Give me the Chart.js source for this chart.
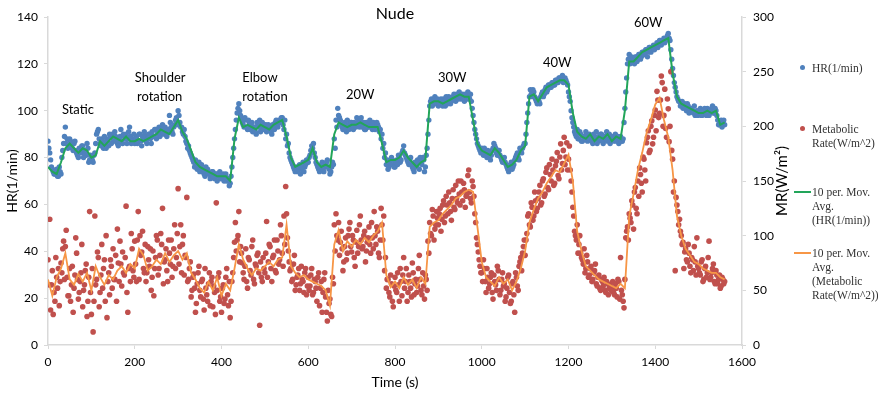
<!DOCTYPE html>
<html>
<head>
<meta charset="utf-8">
<script src="https://cdn.jsdelivr.net/npm/chart.js@4.4.1/dist/chart.umd.min.js"></script>
<style>
  html, body { margin: 0; padding: 0; background: #fff; }
  #wrap { position: relative; width: 878px; height: 396px; }
  #legend { font-family: 'Liberation Serif', serif; font-size: 11.5px; color: #333; line-height: 14px; }
  #legend .txt { position: absolute; left: 812px; white-space: nowrap; }
  #legend .dot { position: absolute; width: 5px; height: 5px; border-radius: 50%; }
  #legend .swatch { position: absolute; width: 17px; height: 2px; }
</style>
</head>
<body>
<div id="wrap">
  <canvas id="chart" width="878" height="396"></canvas>
  <div id="legend">
    <div class="dot" style="left:800px;top:65px;background:#4f81bd"></div>
    <div class="txt" style="top:61px">HR(1/min)</div>
    <div class="dot" style="left:800px;top:126px;background:#c0504d"></div>
    <div class="txt" style="top:122px">Metabolic<br>Rate(W/m^2)</div>
    <div class="swatch" style="left:794px;top:191px;background:#22a55a"></div>
    <div class="txt" style="top:185px">10 per. Mov.<br>Avg.<br>(HR(1/min))</div>
    <div class="swatch" style="left:794px;top:252px;background:#f79646"></div>
    <div class="txt" style="top:246px">10 per. Mov.<br>Avg.<br>(Metabolic<br>Rate(W/m^2))</div>
  </div>
</div>
<script>
// readings every 4 s (second set offset by 2 s), moving averages every 10 s
const sampleStep = 4;
const avgStep = 10;

const hrReadings = [
  87,82,76,74,73,75,72,74,80,86,93,88,85,87,84,86,83,81,84,82,85,83,81,84,79,
  80,78,82,90,92,86,88,84,86,88,85,89,90,87,89,86,88,92,86,89,90,88,93,86,88,
  86,89,87,90,85,88,89,86,90,88,91,89,92,90,93,91,94,92,90,91,98,93,90,94,97,
  100,95,93,90,89,86,85,82,80,78,79,75,78,76,74,73,76,75,73,72,74,71,73,72,74,
  71,73,72,70,71,69,76,84,92,99,103,98,95,93,96,92,95,94,91,93,90,94,96,92,94,
  93,91,94,92,90,93,95,94,96,95,97,92,88,85,82,79,77,75,76,74,77,75,78,76,79,
  78,81,85,86,80,77,75,76,78,74,77,79,75,74,78,88,96,101,97,94,92,95,91,94,93,
  95,92,94,97,94,96,93,95,92,94,93,95,92,94,93,94,91,88,84,80,77,75,78,80,77,
  76,79,81,78,82,85,81,79,77,80,76,74,77,79,75,78,80,74,81,90,102,105,103,106,104,
  102,104,103,105,102,104,106,103,105,107,104,106,108,105,107,104,106,108,105,104,98,92,88,85,83,
  84,81,83,80,82,79,83,86,84,81,83,80,78,80,77,75,76,78,76,79,81,80,84,82,85,
  86,95,103,109,106,108,105,103,104,106,108,107,110,109,111,110,112,111,113,112,114,113,112,114,112,
  108,104,97,93,90,92,88,90,87,89,91,87,90,88,86,89,91,87,88,90,86,89,91,88,86,
  89,87,90,88,86,89,87,95,108,120,124,121,122,120,123,122,124,123,125,124,126,125,127,126,128,
  127,129,128,130,129,131,130,132,131,126,118,112,108,105,104,103,101,103,100,102,100,101,99,98,100,
  99,101,98,100,99,101,98,100,102,99,100,96,94,96,95,94
];

const hrReadingsMid = [
  84,79,75,73,74,72,76,73,83,89,86,84,88,85,83,87,82,80,83,85,80,82,86,78,81,
  79,81,86,91,88,85,87,89,84,87,90,86,88,91,87,85,89,87,90,88,86,91,89,87,90,
  88,86,90,87,89,91,87,88,90,86,89,92,88,91,89,92,90,93,89,92,95,91,93,96,94,
  98,93,91,92,87,84,83,81,79,76,77,76,74,77,75,72,74,73,71,74,72,73,70,73,71,
  72,70,73,71,68,72,80,88,96,101,100,97,94,97,93,96,92,95,93,91,95,93,91,95,92,
  94,92,93,91,94,92,96,93,95,97,94,96,90,86,80,78,76,74,75,76,73,76,74,77,78,
  80,83,84,82,78,76,74,77,75,76,78,76,73,76,77,84,93,98,96,93,94,92,96,92,95,
  93,95,93,95,93,97,94,92,95,93,96,93,95,92,95,93,92,90,86,82,79,76,77,79,76,
  78,77,80,79,83,82,80,78,79,77,75,78,76,78,80,77,79,76,84,96,104,102,105,103,105,
  103,105,102,104,106,103,105,104,106,105,107,105,107,106,105,107,105,106,107,101,95,90,86,84,82,
  82,84,81,83,80,81,84,85,82,83,81,79,79,78,76,74,77,75,77,80,82,79,83,84,86,
  90,99,106,107,109,106,104,105,103,107,106,109,108,111,110,112,111,113,112,114,113,115,113,113,111,
  106,100,95,91,89,88,91,87,89,88,90,89,88,87,90,88,86,89,90,87,89,88,87,90,88,
  88,89,87,89,88,87,88,101,114,122,120,123,121,123,121,124,122,125,124,126,123,127,125,127,126,
  128,127,130,128,130,129,131,133,130,122,115,110,106,104,102,104,102,101,103,99,101,100,102,99,98,
  100,98,100,101,98,100,99,101,99,101,98,94,95,93,96
];

const mrReadings = [
  78,115,55,28,40,62,70,58,66,95,90,62,45,40,72,52,98,60,48,66,35,55,74,40,122,
  28,12,118,60,80,48,92,70,40,25,66,78,52,60,82,106,58,74,85,64,127,30,72,102,68,
  95,58,122,100,85,70,92,66,78,88,62,45,80,96,70,102,125,76,88,58,84,96,72,110,80,
  143,90,66,100,82,135,60,76,50,65,30,56,72,44,60,32,52,40,66,58,35,48,130,62,40,
  30,55,42,70,36,25,58,80,112,96,122,90,75,60,88,52,78,64,96,56,72,84,18,62,80,
  66,113,76,90,58,82,68,96,74,110,84,118,145,98,76,70,60,82,55,64,50,72,58,66,46,
  62,54,70,48,58,40,66,52,30,60,44,22,38,28,62,110,120,96,82,104,68,90,78,100,112,
  85,96,72,105,90,118,88,100,76,94,108,84,98,122,92,104,80,125,96,68,52,60,44,56,35,
  62,48,55,70,45,80,58,40,64,52,75,46,60,54,82,50,66,42,60,95,112,100,118,106,122,
  110,125,115,132,118,128,140,122,134,126,146,130,138,150,132,142,136,155,140,130,145,120,98,85,72,
  66,78,58,70,52,62,48,64,55,72,60,50,66,56,44,62,48,40,58,30,62,50,76,68,90,
  82,102,120,108,126,118,132,125,140,128,150,136,158,144,165,150,160,148,168,155,172,160,178,165,185,
  170,160,140,118,100,110,92,84,78,88,70,76,64,72,60,68,56,62,52,60,54,50,58,46,55,
  52,48,56,44,58,80,46,34,98,108,120,112,128,140,125,150,162,148,172,160,185,196,178,205,190,
  215,232,208,224,240,210,198,225,186,250,170,150,135,122,115,100,94,85,78,92,72,80,68,76,98,
  70,64,78,60,72,66,95,62,70,58,68,56,64,54,60,58
];

const mrReadingsMid = [
  55,32,68,48,80,52,36,75,88,60,105,45,70,55,30,64,84,42,58,92,50,68,26,62,48,
  70,40,55,85,35,64,52,78,100,58,46,72,88,60,40,75,95,54,66,80,48,70,58,88,62,
  74,96,60,82,104,66,58,90,72,50,86,70,100,64,82,92,56,78,68,96,74,62,88,70,102,
  74,110,92,64,80,58,70,44,62,52,38,66,50,58,42,70,46,56,36,62,54,28,50,66,44,
  52,38,62,46,58,40,66,94,86,100,76,84,66,72,58,80,68,90,60,74,82,66,76,58,70,
  84,62,92,70,80,96,66,86,78,100,72,92,120,86,68,58,74,50,62,70,56,60,48,70,54,
  50,64,46,60,52,62,36,58,48,66,30,50,42,26,56,86,100,112,94,88,76,98,84,106,90,
  100,80,94,84,110,96,90,104,86,98,92,112,88,100,108,84,96,110,118,80,60,48,64,40,54,
  50,66,40,58,64,52,70,48,58,44,66,56,48,70,60,46,54,64,50,84,102,124,96,110,116,
  120,104,128,112,136,120,130,114,142,124,134,150,128,140,148,126,138,160,134,150,136,112,92,78,66,
  58,70,48,62,56,66,42,58,50,68,46,60,54,40,52,64,38,56,46,66,54,72,80,84,96,
  96,118,110,130,114,140,122,134,146,130,152,138,162,142,156,170,146,164,176,152,184,166,190,172,160,
  182,150,126,104,96,84,100,80,74,66,82,62,70,58,66,74,54,64,50,58,62,48,56,52,50,
  58,46,52,60,42,50,40,60,104,96,116,132,106,144,120,136,156,140,170,150,190,176,200,184,210,
  196,224,212,246,200,234,190,216,200,178,140,68,128,110,104,92,70,88,76,84,66,78,90,64,72,
  66,76,58,70,62,80,60,66,74,56,64,60,52,62,56
];

const hrAvg = [
  76,74,73,78,84,86,84,82,84,83,
  80,81,87,85,87,89,88,87,89,87,
  87,88,87,88,89,90,92,91,90,93,
  96,91,88,83,78,76,75,74,73,72,
  72,72,70,88,97,93,94,93,92,94,
  93,92,94,95,96,89,80,76,77,78,
  79,84,78,76,77,76,90,95,94,93,
  94,94,95,94,93,93,93,86,78,79,
  79,80,83,80,78,76,78,79,103,104,
  104,103,104,105,106,107,106,106,96,86,
  83,82,81,84,82,79,76,77,79,83,
  85,106,107,104,107,110,111,112,113,113,
  111,99,91,89,88,90,87,89,88,90,
  87,89,88,100,121,121,123,125,126,127,
  128,129,130,131,116,106,103,102,101,100,
  99,99,100,99,100,94,95
];

const mrAvg = [
  60,45,62,70,84,60,55,65,58,66,
  50,72,62,55,64,60,68,72,66,74,
  70,88,82,68,72,78,74,84,76,82,
  86,78,84,66,60,52,48,58,50,62,
  45,56,50,70,92,78,70,64,70,68,
  72,76,72,78,80,110,72,66,62,64,
  60,58,56,54,50,36,92,105,86,95,
  90,96,92,98,94,100,104,112,64,53,
  58,52,62,55,60,52,62,56,108,112,
  114,120,124,128,134,136,140,142,140,108,
  76,62,58,54,62,56,60,50,58,70,
  86,112,124,134,140,148,154,160,158,166,
  174,150,104,86,72,68,64,60,58,56,
  54,52,56,52,118,138,160,176,194,206,
  220,226,206,190,160,118,100,88,82,76,
  74,70,68,66,66,62,60
];

// stage labels: text, time (s), HR level of the text line
const stageText = ['Static', 'Shoulder', 'rotation', 'Elbow', 'rotation', '20W', '30W', '40W', '60W'];
const stageTime = [32, 200, 205, 448, 448, 687, 899, 1141, 1351];
const stageHr = [100.3, 114, 105.8, 114, 105.8, 107, 114, 120.4, 137.4];

const toPoints = (vals, step, start = 0) => vals.map((v, i) => ({ x: start + i * step, y: v }));

const labelsPlugin = {
    id: 'labels',
    afterDatasetsDraw(chart) {
        const { ctx, chartArea } = chart;
        const x = chart.scales.x, y = chart.scales.y;
        ctx.save();
        ctx.fillStyle = '#000';
        ctx.textBaseline = 'middle';
        ctx.textAlign = 'left';
        ctx.font = '13px Lato';
        stageText.forEach((s, i) => ctx.fillText(s, x.getPixelForValue(stageTime[i]), y.getPixelForValue(stageHr[i])));
        ctx.textAlign = 'center';
        ctx.font = '16px Lato';
        ctx.fillText('Nude', (chartArea.left + chartArea.right) / 2, 14);
        ctx.translate(782, (chartArea.top + chartArea.bottom) / 2);
        ctx.rotate(-Math.PI / 2);
        ctx.font = '15px Lato';
        ctx.fillText('MR(W/m²)', 0, 0);
        ctx.restore();
    }
};

const axisGrey = '#d9d9d9';
const tickFont = { family: 'Lato', size: 12 };
const hrColor = '#4f81bd', mrColor = '#c0504d';

new Chart(document.getElementById('chart'), {
    type: 'scatter',
    data: {
        datasets: [
            { label: '10 per. Mov. Avg. (Metabolic Rate(W/m^2))', data: toPoints(mrAvg, avgStep), yAxisID: 'y2',
              showLine: true, borderColor: '#f79646', borderWidth: 1.8, pointRadius: 0, order: 0 },
            { label: '10 per. Mov. Avg. (HR(1/min))', data: toPoints(hrAvg, avgStep), yAxisID: 'y',
              showLine: true, borderColor: '#22a55a', borderWidth: 2, pointRadius: 0, order: 1 },
            { label: 'Metabolic Rate(W/m^2)', data: toPoints(mrReadings, sampleStep).concat(toPoints(mrReadingsMid, sampleStep, 2)),
              yAxisID: 'y2', backgroundColor: mrColor, borderWidth: 0, pointRadius: 2.8, order: 2 },
            { label: 'HR(1/min)', data: toPoints(hrReadings, sampleStep).concat(toPoints(hrReadingsMid, sampleStep, 2)),
              yAxisID: 'y', backgroundColor: hrColor, borderWidth: 0, pointRadius: 2.7, order: 3 }
        ]
    },
    options: {
        responsive: false,
        animation: false,
        devicePixelRatio: 1,
        layout: { padding: { top: 17, right: 78, left: 0, bottom: 0 } },
        plugins: { legend: { display: false }, tooltip: { enabled: false } },
        scales: {
            x: {
                type: 'linear', min: 0, max: 1600,
                ticks: { stepSize: 200, color: '#000', font: tickFont, padding: 6, maxRotation: 0, format: { useGrouping: false } },
                grid: { drawOnChartArea: false, tickLength: 4, color: axisGrey },
                border: { color: axisGrey, width: 1.5 },
                title: { display: true, text: 'Time (s)', color: '#000', font: { family: 'Lato', size: 14 }, padding: { top: 0, bottom: 5 } },
                afterFit(s) { s.height = 51; }
            },
            y: {
                position: 'left', min: 0, max: 140,
                ticks: { stepSize: 20, color: '#000', font: tickFont, padding: 6 },
                grid: { drawOnChartArea: false, tickLength: 4, color: axisGrey },
                border: { color: axisGrey, width: 1.5 },
                title: { display: true, text: 'HR(1/min)', color: '#000', font: { family: 'Lato', size: 14 }, padding: { top: 4, bottom: 0 } },
                afterFit(s) { s.width = 48; }
            },
            y2: {
                position: 'right', min: 0, max: 300,
                ticks: { stepSize: 50, color: '#000', font: tickFont, padding: 7 },
                grid: { drawOnChartArea: false, tickLength: 4, color: axisGrey },
                border: { color: axisGrey, width: 1.5 },
                afterFit(s) { s.width = 58; }
            }
        }
    },
    plugins: [labelsPlugin]
});
</script>
</body>
</html>
